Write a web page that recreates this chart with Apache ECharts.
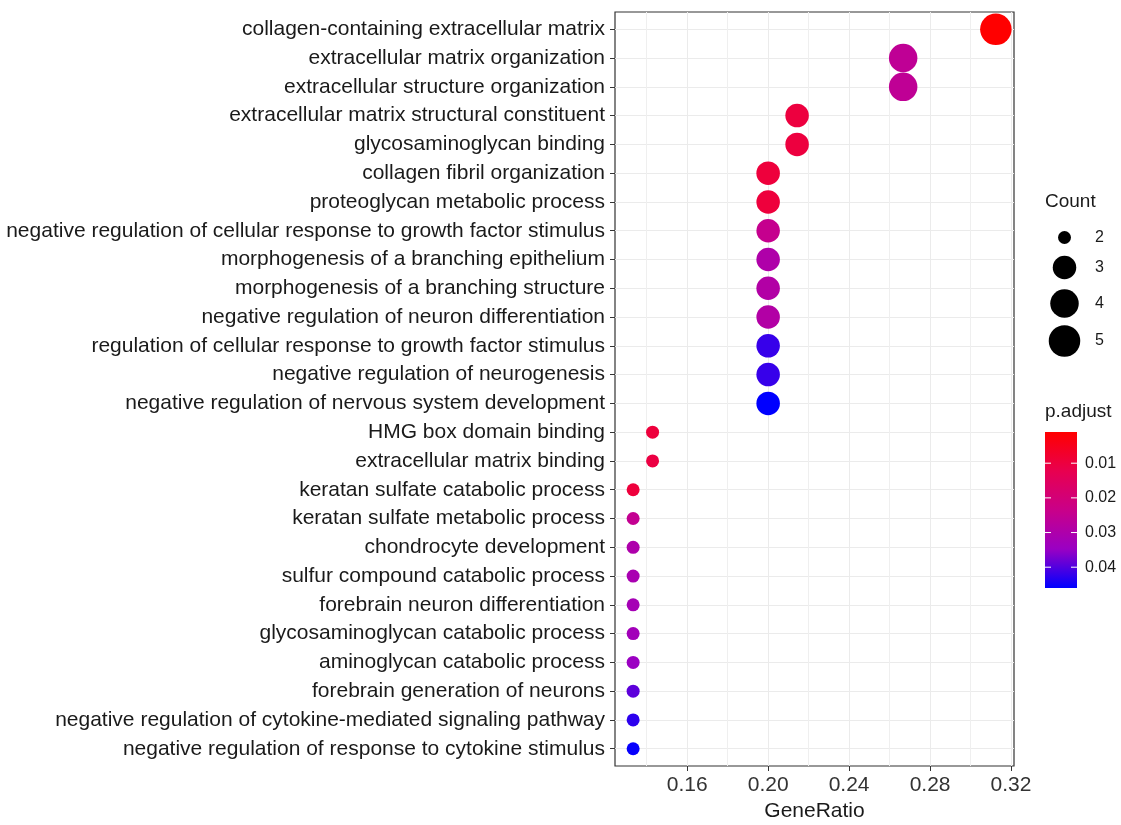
<!DOCTYPE html>
<html>
<head>
<meta charset="utf-8">
<script src="https://cdn.jsdelivr.net/npm/echarts@6/dist/echarts.min.js"></script>
<style>
  html, body { margin: 0; padding: 0; background: #ffffff; }
  #chart { width: 1121px; height: 825px; }
</style>
</head>
<body>
<div id="chart"></div>
<script>
// GO enrichment terms, listed top to bottom
const terms = [
  'collagen-containing extracellular matrix',
  'extracellular matrix organization',
  'extracellular structure organization',
  'extracellular matrix structural constituent',
  'glycosaminoglycan binding',
  'collagen fibril organization',
  'proteoglycan metabolic process',
  'negative regulation of cellular response to growth factor stimulus',
  'morphogenesis of a branching epithelium',
  'morphogenesis of a branching structure',
  'negative regulation of neuron differentiation',
  'regulation of cellular response to growth factor stimulus',
  'negative regulation of neurogenesis',
  'negative regulation of nervous system development',
  'HMG box domain binding',
  'extracellular matrix binding',
  'keratan sulfate catabolic process',
  'keratan sulfate metabolic process',
  'chondrocyte development',
  'sulfur compound catabolic process',
  'forebrain neuron differentiation',
  'glycosaminoglycan catabolic process',
  'aminoglycan catabolic process',
  'forebrain generation of neurons',
  'negative regulation of cytokine-mediated signaling pathway',
  'negative regulation of response to cytokine stimulus'
];

const geneRatio = [
  0.3125, 0.2667, 0.2667, 0.2143, 0.2143, 0.2000, 0.2000, 0.2000, 0.2000,
  0.2000, 0.2000, 0.2000, 0.2000, 0.2000, 0.1429, 0.1429, 0.1333, 0.1333,
  0.1333, 0.1333, 0.1333, 0.1333, 0.1333, 0.1333, 0.1333, 0.1333
];

const counts = [
  5, 4, 4, 3, 3, 3, 3, 3, 3, 3, 3, 3, 3, 3, 2, 2, 2, 2, 2, 2, 2, 2, 2, 2, 2, 2
];

const pAdjust = [
  0.0010, 0.0258, 0.0258, 0.0100, 0.0100, 0.0095, 0.0095, 0.0245, 0.0298,
  0.0290, 0.0290, 0.0420, 0.0420, 0.0460, 0.0095, 0.0105, 0.0095, 0.0250,
  0.0300, 0.0312, 0.0320, 0.0328, 0.0345, 0.0392, 0.0428, 0.0455
];

const xTicks = [0.16, 0.20, 0.24, 0.28, 0.32];
const xMinorTicks = [0.14, 0.18, 0.22, 0.26, 0.30];
const countBreaks = [2, 3, 4, 5];
const pBreaks = [0.01, 0.02, 0.03, 0.04];

// colour ramp red -> blue (perceptual mix through magenta/purple)
const colorRamp = ['#FF0000', '#E8004F', '#C90089', '#9A00C3', '#0000FF'];
// marker diameter per gene count
const sizeByCount = { 2: 13, 3: 23.5, 4: 28.5, 5: 31.5 };

const FONT = '"Liberation Sans", Arial, sans-serif';

const chart = echarts.init(document.getElementById('chart'), null, { renderer: 'canvas' });

const pMin = Math.min(...pAdjust);
const pMax = Math.max(...pAdjust);
const grMin = Math.min(...geneRatio);
const grMax = Math.max(...geneRatio);
const grPad = (grMax - grMin) * 0.05;

const points = terms.map((t, i) => [geneRatio[i], i, counts[i], pAdjust[i]]);
const rowIdx = terms.map((t, i) => i);

// legend geometry
const countLegend = { titleX: 1045, titleY: 202, cx: 1064.5, labelX: 1095, ys: [237.5, 267.5, 303.5, 341] };
const bar = { x: 1045, y: 432, w: 32, h: 156, titleY: 412, labelX: 1085 };

const graphics = [];
graphics.push({
  type: 'text', x: countLegend.titleX, y: countLegend.titleY,
  style: { text: 'Count', font: '19px ' + FONT, fill: '#1a1a1a', verticalAlign: 'middle' }
});
countBreaks.forEach((c, k) => {
  graphics.push({
    type: 'circle',
    shape: { cx: countLegend.cx, cy: countLegend.ys[k], r: sizeByCount[c] / 2 },
    style: { fill: '#000000' }
  });
  graphics.push({
    type: 'text', x: countLegend.labelX, y: countLegend.ys[k],
    style: { text: String(c), font: '16px ' + FONT, fill: '#1a1a1a', verticalAlign: 'middle' }
  });
});

graphics.push({
  type: 'text', x: bar.x, y: bar.titleY,
  style: { text: 'p.adjust', font: '19px ' + FONT, fill: '#1a1a1a', verticalAlign: 'middle' }
});
graphics.push({
  type: 'rect',
  shape: { x: bar.x, y: bar.y, width: bar.w, height: bar.h },
  style: {
    fill: new echarts.graphic.LinearGradient(0, 0, 0, 1,
      colorRamp.map((c, k) => ({ offset: k / (colorRamp.length - 1), color: c })))
  }
});
pBreaks.forEach(p => {
  const y = bar.y + (p - pMin) / (pMax - pMin) * bar.h;
  graphics.push({
    type: 'line', shape: { x1: bar.x, y1: y, x2: bar.x + 6, y2: y },
    style: { stroke: '#ffffff', lineWidth: 1 }
  });
  graphics.push({
    type: 'line', shape: { x1: bar.x + bar.w - 6, y1: y, x2: bar.x + bar.w, y2: y },
    style: { stroke: '#ffffff', lineWidth: 1 }
  });
  graphics.push({
    type: 'text', x: bar.labelX, y: y,
    style: { text: p.toFixed(2), font: '16px ' + FONT, fill: '#1a1a1a', verticalAlign: 'middle' }
  });
});

const option = {
  backgroundColor: '#ffffff',
  animation: false,
  grid: {
    left: 615, right: 107, top: 12, bottom: 59,
    show: true, borderColor: '#333333', borderWidth: 1.2,
    containLabel: false, outerBoundsMode: 'none'
  },
  xAxis: [
    {
      type: 'value',
      min: grMin - grPad, max: grMax + grPad,
      name: 'GeneRatio', nameLocation: 'middle', nameGap: 35,
      nameTextStyle: { fontSize: 21, fontFamily: FONT, color: '#1a1a1a' },
      axisLine: { show: false, onZero: false },
      axisTick: { show: true, length: 5, customValues: xTicks, lineStyle: { color: '#333333', width: 1 } },
      axisLabel: {
        customValues: xTicks, margin: 9,
        fontSize: 21, fontFamily: FONT, color: '#333333',
        formatter: v => v.toFixed(2)
      },
      splitLine: { show: true, lineStyle: { color: '#EBEBEB', width: 1 } }
    },
    {
      type: 'value',
      min: grMin - grPad, max: grMax + grPad,
      position: 'bottom',
      axisLine: { show: false, onZero: false },
      axisTick: { show: false, customValues: xMinorTicks },
      axisLabel: { show: false, customValues: xMinorTicks },
      splitLine: { show: true, lineStyle: { color: '#EFEFEF', width: 1 } }
    }
  ],
  yAxis: {
    type: 'value',
    min: -0.6, max: terms.length - 0.4,
    inverse: true,
    axisLine: { show: false, onZero: false },
    axisTick: { show: true, length: 5, customValues: rowIdx, lineStyle: { color: '#333333', width: 1 } },
    axisLabel: {
      customValues: rowIdx, margin: 10,
      fontSize: 21, fontFamily: FONT, color: '#1a1a1a',
      formatter: v => terms[Math.round(v)]
    },
    splitLine: { show: true, lineStyle: { color: '#EBEBEB', width: 1 } }
  },
  visualMap: {
    type: 'continuous', show: false,
    dimension: 3, seriesIndex: 0,
    min: pMin, max: pMax,
    inRange: { color: colorRamp }
  },
  series: [{
    type: 'scatter',
    xAxisIndex: 0,
    data: points,
    symbol: 'circle',
    symbolSize: d => sizeByCount[d[2]],
    itemStyle: { opacity: 1 }
  }],
  graphic: graphics
};

chart.setOption(option);
</script>
</body>
</html>
